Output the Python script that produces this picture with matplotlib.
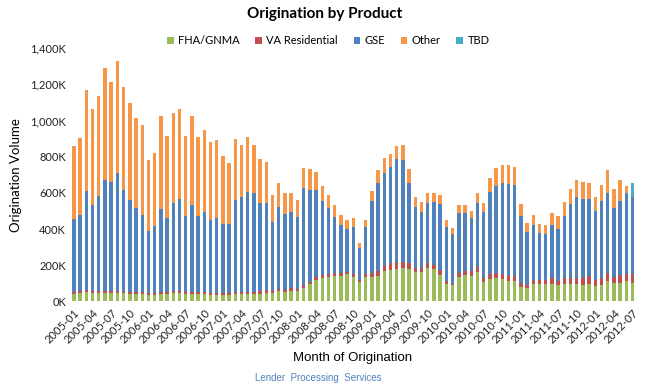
import matplotlib
matplotlib.use("Agg")
import matplotlib.pyplot as plt
import numpy as np
from matplotlib.ticker import FuncFormatter

plt.rcParams['font.family'] = ['Lato', 'DejaVu Sans']

# monthly origination volume (thousands), 2005-01 .. 2012-07
months = ["%d-%02d" % (y, m) for y in range(2005, 2013) for m in range(1, 13)][:91]

fha = [44, 46, 50, 46, 46, 48, 46, 48, 45, 44, 42, 40, 36, 38, 44, 44, 46, 46, 44, 44,
       42, 40, 38, 38, 36, 36, 40, 42, 44, 44, 44,
       49, 45, 58, 54, 56, 58, 75, 95, 119, 130, 134, 141, 141, 152, 136, 108, 134, 137, 141,
       167, 174, 182, 184, 178, 163, 165, 184, 178, 149,
       95, 89, 134, 145, 143, 163, 108, 123, 128, 125, 113, 112, 78, 75, 99, 95, 97, 99, 89, 99,
       99, 95, 89, 99, 84, 89, 112, 100, 104, 112, 104]
va = [10, 10, 12, 10, 10, 10, 10, 10, 10, 10, 10, 10, 9, 9, 10, 10, 10, 10, 10, 10,
      10, 10, 10, 10, 9, 9, 10, 10, 11, 11, 12,
      13, 12, 11, 9, 17, 9, 14, 13, 15, 17, 18, 17, 17, 13, 16, 13, 18, 19, 26,
      28, 36, 35, 33, 32, 24, 22, 26, 26, 26,
      17, 9, 22, 22, 24, 26, 22, 27, 30, 29, 30, 31, 26, 18, 22, 26, 24, 29, 26, 29,
      29, 33, 41, 40, 33, 39, 46, 37, 43, 42, 48]
gse = [400, 422, 546, 480, 528, 615, 602, 650, 560, 509, 463, 428, 342, 372, 458, 409, 491, 511, 421, 478,
       421, 445, 404, 415, 383, 383, 510, 523, 551, 542, 491,
       483, 384, 454, 423, 420, 402, 539, 509, 483, 409, 363, 311, 263, 237, 258, 174, 258, 398, 489,
       517, 535, 569, 563, 446, 336, 310, 335, 346, 366,
       300, 273, 331, 321, 295, 358, 367, 456, 483, 500, 506, 502, 369, 293, 302, 257, 250, 297, 287, 345,
       413, 452, 439, 426, 383, 430, 442, 382, 409, 443, 428]
other = [407, 426, 563, 529, 553, 616, 557, 622, 571, 532, 497, 495, 397, 402, 514, 454, 494, 498, 438, 494,
         435, 452, 430, 430, 376, 337, 337, 290, 302, 269, 242,
         226, 148, 133, 111, 107, 94, 109, 113, 98, 83, 74, 63, 57, 50, 53, 31, 42, 58, 72,
         81, 68, 74, 85, 76, 55, 52, 55, 47, 48,
         38, 33, 45, 44, 37, 50, 48, 74, 95, 102, 103, 100, 66, 50, 53, 52, 54, 62, 71, 79,
         82, 89, 91, 89, 78, 87, 128, 104, 115, 40, 0]
tbd = [0] * 90 + [76]

series = [("FHA/GNMA", fha, "#9BBB59"), ("VA Residential", va, "#C0504D"),
          ("GSE", gse, "#4F81BD"), ("Other", other, "#F79646"), ("TBD", tbd, "#4BACC6")]

fig = plt.figure(figsize=(6.5, 3.89), dpi=100)
ax = fig.add_axes([0.109, 0.225, 0.869, 0.651])

x = np.arange(len(months))
bottom = np.zeros(len(months))
for name, vals, col in series:
    vals = np.array(vals, dtype=float)
    ax.bar(x, vals, 0.55, bottom=bottom, color=col, label=name, linewidth=0)
    bottom += vals

ax.set_xlim(-0.5, len(months) - 0.5)
ax.set_ylim(0, 1400)
ax.set_yticks(np.arange(0, 1401, 200))
ax.yaxis.set_major_formatter(FuncFormatter(lambda v, p: "{:,.0f}K".format(v)))
ax.set_xticks(x[::3])
ax.set_xticklabels(months[::3], rotation=45, ha="right", rotation_mode="anchor")
ax.tick_params(length=0, labelsize=8, colors="#222222")
ax.tick_params(axis="x", pad=4)
for s in ax.spines.values():
    s.set_visible(False)

ax.set_ylabel("Origination Volume", fontsize=9.5, labelpad=6)
fig.text(0.5, 0.965, "Origination by Product", ha="center", va="center",
         fontsize=11, fontweight="bold")
fig.legend(loc="center", bbox_to_anchor=(0.505, 0.895), ncol=5, frameon=False,
           fontsize=8, handlelength=0.6, handleheight=0.6, handletextpad=0.4,
           columnspacing=1.4)
fig.text(0.542, 0.08, "Month of Origination", ha="center", va="center",
         fontsize=9.5, family="Liberation Sans")
fig.text(0.49, 0.028, "Lender  Processing  Services", ha="center", va="center",
         fontsize=7, color="#4F81BD", family="Liberation Sans")

fig.savefig("out.png", dpi=100)
